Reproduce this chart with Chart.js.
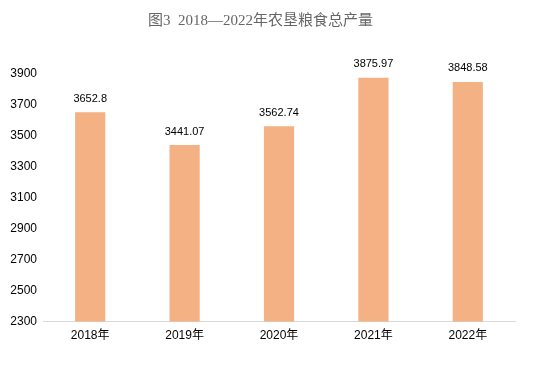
<!DOCTYPE html>
<html>
<head>
<meta charset="utf-8">
<script src="https://cdn.jsdelivr.net/npm/chart.js@4"></script>
<style>
  html, body { margin: 0; padding: 0; background: #fff; }
  #wrap { width: 543px; height: 384px; }
</style>
</head>
<body>
<div id="wrap"><canvas id="grafico" width="543" height="384"></canvas></div>
<script>
// datos del gráfico
const years = ['2018年', '2019年', '2020年', '2021年', '2022年'];
const output = [3652.8, 3441.07, 3562.74, 3875.97, 3848.58];
const valueLabels = ['3652.8', '3441.07', '3562.74', '3875.97', '3848.58'];
const yMin = 2300, yMax = 3900, yStep = 200;

// etiquetas encima de cada barra
const barLabels = {
    id: 'barLabels',
    afterDatasetsDraw(chart) {
        const ctx = chart.ctx;
        const meta = chart.getDatasetMeta(0);
        ctx.save();
        ctx.font = '11px "Liberation Sans", "Noto Sans", sans-serif';
        ctx.fillStyle = '#000';
        ctx.textAlign = 'center';
        ctx.textBaseline = 'bottom';
        meta.data.forEach(function (bar, i) {
            ctx.fillText(valueLabels[i], bar.x, bar.y - 8);
        });
        ctx.restore();
    }
};

new Chart(document.getElementById('grafico'), {
    type: 'bar',
    data: {
        labels: years,
        datasets: [{
            label: '农垦粮食总产量',
            data: output,
            backgroundColor: '#F4B183',
            barPercentage: 0.32,
            categoryPercentage: 1
        }]
    },
    options: {
        responsive: false,
        animation: false,
        layout: { padding: { left: 6, right: 28, top: 0, bottom: 34 } },
        plugins: {
            legend: { display: false },
            tooltip: { enabled: false },
            title: {
                display: true,
                text: '图3  2018—2022年农垦粮食总产量',
                color: '#666',
                font: { size: 15, family: '"Liberation Serif", "Noto Sans CJK SC", serif', weight: 'normal' },
                padding: { top: 12, bottom: 44 }
            }
        },
        scales: {
            x: {
                grid: { display: false, drawTicks: false },
                border: { display: true, color: '#d9d9d9', width: 1 },
                ticks: {
                    color: '#000',
                    padding: 7,
                    font: { size: 12, family: '"Liberation Sans", "Noto Sans CJK SC", sans-serif' }
                }
            },
            y: {
                min: yMin,
                max: yMax,
                afterFit: function (scale) { scale.width = 37; },
                grid: { display: false, drawTicks: false },
                border: { display: false },
                ticks: {
                    stepSize: yStep,
                    color: '#000',
                    padding: 6,
                    font: { size: 12, family: '"Liberation Sans", "Noto Sans", sans-serif' },
                    callback: function (v) { return String(v); }
                }
            }
        }
    },
    plugins: [barLabels]
});
</script>
</body>
</html>
